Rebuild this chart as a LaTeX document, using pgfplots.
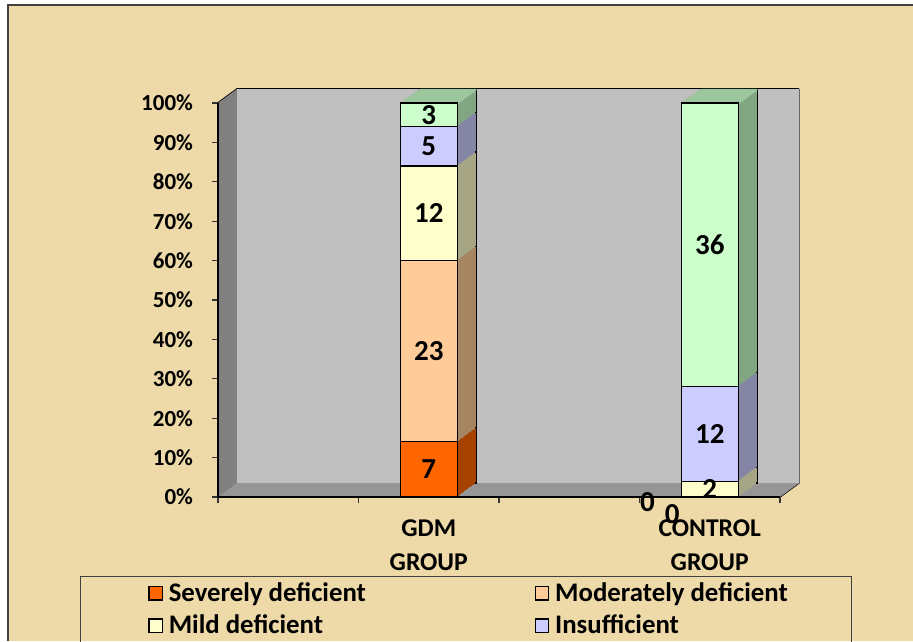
\documentclass[border=0pt]{standalone}
\usepackage{pgfplots}
\pgfplotsset{compat=1.18}
\usepackage{pgfplotstable}
\usepackage{fontspec}
\setmainfont{Carlito}

\definecolor{papyrus}{HTML}{EEDAA8}
\definecolor{cSev}{HTML}{FF6600}
\definecolor{cMod}{HTML}{FFCC99}
\definecolor{cMild}{HTML}{FFFFCC}
\definecolor{cIns}{HTML}{CCCCFF}
\definecolor{cSuf}{HTML}{CCFFCC}
\definecolor{sSev}{HTML}{A64200}
\definecolor{sMod}{HTML}{A68563}
\definecolor{sMild}{HTML}{A6A685}
\definecolor{sIns}{HTML}{8585A6}
\definecolor{sSuf}{HTML}{82A682}
\definecolor{tSuf}{HTML}{9CC69C}
\definecolor{wallback}{HTML}{C0C0C0}
\definecolor{wallleft}{HTML}{808080}
\definecolor{wallfloor}{HTML}{969696}

\pgfplotstableread{
x sev mod mild ins suf
1 7 23 12 5 3
2 0 0 2 12 36
}\datatable

\pgfplotsset{
  base/.style={scale only axis, width=281pt, height=197pt,
    xmin=0.25, xmax=2.25, ymin=0, ymax=50, clip=false,
    ybar stacked, bar width=28.5pt, anchor=south west},
  hidden/.style={axis lines=none, xtick=\empty, ytick=\empty},
}

\begin{document}
\begin{tikzpicture}
\useasboundingbox (0,0) rectangle (456.5pt,320.5pt);
\clip (0,0) rectangle (456.5pt,320.5pt);
\fill[white] (0,0) rectangle (456.5pt,320.5pt);
\fill[papyrus] (4pt,0) rectangle (456.5pt,318pt);
\draw[black!75, line width=0.7pt] (4pt,0) -- (4pt,318pt) -- (456.5pt,318pt);

% walls
\begin{axis}[base, hidden, at={(109pt,72pt)}]
  \fill[wallback] ([shift={(9.5pt,7pt)}]axis cs:0.25,0) rectangle ([shift={(9.5pt,7pt)}]axis cs:2.25,50);
  \fill[wallleft] (axis cs:0.25,0) -- ([shift={(9.5pt,7pt)}]axis cs:0.25,0) -- ([shift={(9.5pt,7pt)}]axis cs:0.25,50) -- (axis cs:0.25,50) -- cycle;
  \fill[wallfloor] (axis cs:0.25,0) -- (axis cs:2.25,0) -- ([shift={(9.5pt,7pt)}]axis cs:2.25,0) -- ([shift={(9.5pt,7pt)}]axis cs:0.25,0) -- cycle;
  \draw[black!60, line width=0.7pt] ([shift={(9.5pt,7pt)}]axis cs:0.25,0) -- ([shift={(9.5pt,7pt)}]axis cs:2.25,0) -- ([shift={(9.5pt,7pt)}]axis cs:2.25,50);
  \draw[black, line width=0.7pt] (axis cs:2.25,0) -- ([shift={(9.5pt,7pt)}]axis cs:2.25,0);
  \pgfplotsinvokeforeach{5,10,...,50}{
    \draw[black, line width=0.8pt] (axis cs:0.25,#1) -- ([shift={(9.5pt,7pt)}]axis cs:0.25,#1) -- ([shift={(9.5pt,7pt)}]axis cs:2.25,#1);
  }
\end{axis}

% depth of the bars (extrusion of the side faces)
\foreach \k in {14,13,...,1}{
  \ifnum\k=14
    \pgfplotsset{edge/.style={draw=black, line width=0.6pt}}
  \else
    \pgfplotsset{edge/.style={draw=none}}
  \fi
  \begin{axis}[base, hidden, at={({109pt+\k*0.6786pt},{72pt+\k*0.5pt})}]
    \addplot[fill=sSev, edge] table[x=x,y=sev]{\datatable};
    \addplot[fill=sMod, edge] table[x=x,y=mod]{\datatable};
    \addplot[fill=sMild, edge] table[x=x,y=mild]{\datatable};
    \addplot[fill=sIns, edge] table[x=x,y=ins]{\datatable};
    \addplot[fill=sSuf, edge] table[x=x,y=suf]{\datatable};
  \end{axis}
}
% top faces: only the uppermost sliver of each shifted copy is kept
\foreach \k in {14,13,...,1}{
  \begin{axis}[base, hidden, clip=true, ymin=49.86, ymax=50, height=0.5516pt,
    at={({109pt+\k*0.6786pt},{268.4484pt+\k*0.5pt})}]
    \addplot[fill=tSuf, draw=none] table[x=x,y=sev]{\datatable};
    \addplot[fill=tSuf, draw=none] table[x=x,y=mod]{\datatable};
    \addplot[fill=tSuf, draw=none] table[x=x,y=mild]{\datatable};
    \addplot[fill=tSuf, draw=none] table[x=x,y=ins]{\datatable};
    \addplot[fill=tSuf, draw=none] table[x=x,y=suf]{\datatable};
  \end{axis}
}

% front
\begin{axis}[base, at={(109pt,72pt)},
  /pgf/number format/assume math mode=true,
  axis x line*=bottom, axis y line*=left,
  axis line style={-, line width=0.8pt, black},
  ytick={0,5,...,50},
  yticklabels={0\%,10\%,20\%,30\%,40\%,50\%,60\%,70\%,80\%,90\%,100\%},
  yticklabel style={font=\fontsize{11.5}{13}\selectfont\bfseries, xshift=-6pt},
  xtick={1,2},
  xticklabels={{GDM\\GROUP},{CONTROL\\GROUP}},
  xticklabel style={align=center, font=\fontsize{12.8}{17}\selectfont\bfseries, yshift=-5pt},
  minor xtick={0.25,0.75,1.25,1.75,2.25},
  tick align=outside, major tick length=3pt, minor tick length=3pt,
  major x tick style={draw=none},
  tick style={black!80, line width=0.6pt},
  nodes near coords={\pgfmathfloatifflags{\pgfplotspointmeta}{0}{}{\pgfmathprintnumber{\pgfplotspointmeta}}},
  every node near coord/.append style={font=\fontsize{14.5}{16}\selectfont\bfseries, anchor=center},
  legend columns=2,
  legend cell align=left,
  legend image code/.code={\draw[#1, draw=black, line width=0.6pt] (0pt,-3.3pt) rectangle (6.6pt,3.3pt);},
  legend style={at={(-0.2456,-0.2005)}, anchor=north west, draw=black!75, fill=none,
    inner xsep=34pt, inner ysep=1pt, row sep=1.2pt,
    font=\fontsize{13.4}{15}\selectfont\bfseries,
    /tikz/every odd column/.append style={column sep=1pt},
    /tikz/every even column/.append style={column sep=0pt}},
]
  \addplot[fill=cSev, draw=black, line width=0.6pt] table[x=x,y=sev]{\datatable};
  \addplot[fill=cMod, draw=black, line width=0.6pt] table[x=x,y=mod]{\datatable};
  \addplot[fill=cMild, draw=black, line width=0.6pt] table[x=x,y=mild]{\datatable};
  \addplot[fill=cIns, draw=black, line width=0.6pt] table[x=x,y=ins]{\datatable};
  \addplot[fill=cSuf, draw=black, line width=0.6pt] table[x=x,y=suf]{\datatable};
  \legend{\makebox[181pt][l]{Severely deficient},\makebox[112pt][l]{Moderately deficient},\makebox[181pt][l]{Mild deficient},\makebox[112pt][l]{Insufficient},\makebox[181pt][l]{Sufficient}}
  \node[font=\fontsize{14.5}{16}\selectfont\bfseries] at (axis cs:1.778,-0.6) {0};
  \node[font=\fontsize{14.5}{16}\selectfont\bfseries] at (axis cs:1.866,-2.16) {0};
\end{axis}
\end{tikzpicture}
\end{document}
